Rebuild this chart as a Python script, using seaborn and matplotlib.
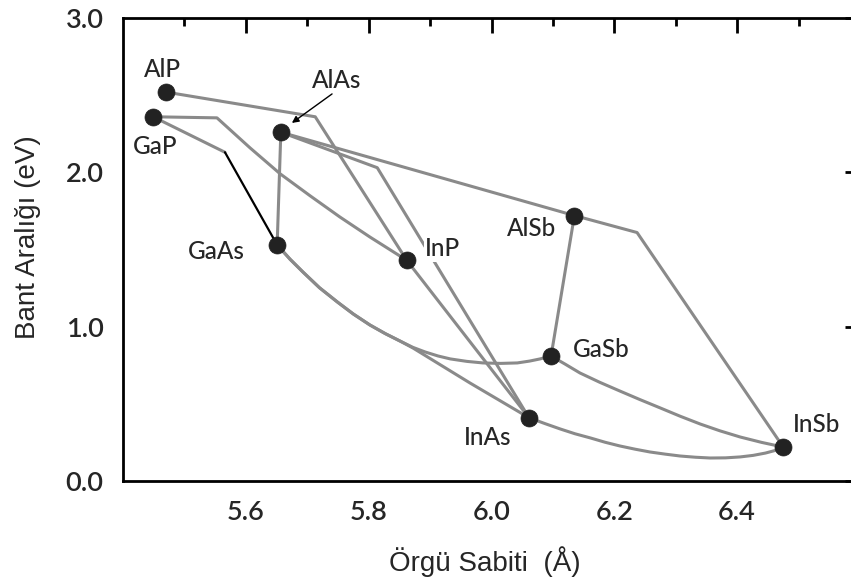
import matplotlib
matplotlib.use("Agg")
import matplotlib.pyplot as plt
import seaborn as sns
import pandas as pd
from matplotlib.ticker import FixedLocator

# ---- data ----
compounds = ["AlP", "GaP", "AlAs", "GaAs", "InP", "AlSb", "GaSb", "InAs", "InSb"]
lattice = [5.470, 5.449, 5.657, 5.651, 5.862, 6.135, 6.097, 6.061, 6.475]
gap = [2.52, 2.36, 2.26, 1.53, 1.43, 1.72, 0.81, 0.41, 0.22]

# connecting lines: (x list, y list)
alp_inp_x = [5.470, 5.713, 5.862]
alp_inp_y = [2.52, 2.36, 1.43]
gap_inp_x = [5.449, 5.553, 5.607, 5.656, 5.705, 5.753, 5.802, 5.862]
gap_inp_y = [2.36, 2.353, 2.158, 1.990, 1.847, 1.711, 1.581, 1.43]
gap_gaas_gray_x = [5.449, 5.566]
gap_gaas_gray_y = [2.36, 2.13]
gap_gaas_black_x = [5.566, 5.651]
gap_gaas_black_y = [2.13, 1.53]
alas_gaas_x = [5.657, 5.651]
alas_gaas_y = [2.26, 1.53]
alas_inas_x = [5.657, 5.814, 6.061]
alas_inas_y = [2.26, 2.03, 0.41]
alas_alsb_x = [5.657, 6.135]
alas_alsb_y = [2.26, 1.72]
alsb_insb_x = [6.135, 6.237, 6.475]
alsb_insb_y = [1.72, 1.61, 0.22]
alsb_gasb_x = [6.135, 6.097]
alsb_gasb_y = [1.72, 0.81]
inp_inas_x = [5.862, 6.061]
inp_inas_y = [1.43, 0.41]
gaas_gasb_x = [5.651, 5.672, 5.693, 5.720, 5.749, 5.775, 5.802, 5.827, 5.851, 5.872,
               5.892, 5.913, 5.933, 5.960, 5.986, 6.015, 6.042, 6.062, 6.079, 6.097]
gaas_gasb_y = [1.53, 1.437, 1.354, 1.252, 1.160, 1.082, 1.011, 0.955, 0.907, 0.866,
               0.836, 0.810, 0.791, 0.775, 0.765, 0.762, 0.765, 0.777, 0.791, 0.81]
gaas_inas_x = [5.651, 5.672, 5.693, 5.720, 5.749, 5.775, 5.802, 5.827, 5.851, 5.872,
               5.965, 6.061]
gaas_inas_y = [1.53, 1.437, 1.354, 1.252, 1.160, 1.082, 1.011, 0.955, 0.907, 0.862,
               0.635, 0.41]
inas_insb_x = [6.061, 6.087, 6.112, 6.136, 6.161, 6.185, 6.209, 6.234, 6.258, 6.283,
               6.307, 6.332, 6.356, 6.381, 6.405, 6.426, 6.446, 6.462, 6.475]
inas_insb_y = [0.41, 0.372, 0.337, 0.306, 0.279, 0.251, 0.227, 0.206, 0.188, 0.174,
               0.162, 0.154, 0.149, 0.150, 0.156, 0.166, 0.181, 0.198, 0.22]
gasb_insb_x = [6.097, 6.120, 6.144, 6.176, 6.209, 6.242, 6.275, 6.307, 6.340, 6.372,
               6.405, 6.440, 6.475]
gasb_insb_y = [0.81, 0.757, 0.700, 0.640, 0.583, 0.527, 0.473, 0.420, 0.369, 0.325,
               0.285, 0.250, 0.22]

label_x = [5.465, 5.452, 5.7485, 5.5515, 5.921, 6.066, 6.1785, 5.993, 6.530]
label_y = [2.664, 2.165, 2.592, 1.484, 1.504, 1.633, 0.849, 0.285, 0.363]

x_major = [5.6, 5.8, 6.0, 6.2, 6.4]
x_minor = [5.5, 5.7, 5.9, 6.1, 6.3, 6.5]
y_major = [0.0, 1.0, 2.0, 3.0]
y_minor = [0.5, 1.5, 2.5]

# ---- plotting ----
sns.set_style("white")
plt.rcParams["font.family"] = ["Lato", "DejaVu Sans"]

fig = plt.figure(figsize=(8.51, 5.82), dpi=100)
ax = fig.add_axes([123 / 851, (582 - 481) / 582, (860 - 123) / 851, (481 - 18) / 582])

gray = "#8a8a8a"
gray_lines = [
    (alp_inp_x, alp_inp_y), (gap_inp_x, gap_inp_y), (gap_gaas_gray_x, gap_gaas_gray_y),
    (alas_gaas_x, alas_gaas_y), (alas_inas_x, alas_inas_y), (alas_alsb_x, alas_alsb_y),
    (alsb_insb_x, alsb_insb_y), (alsb_gasb_x, alsb_gasb_y), (inp_inas_x, inp_inas_y),
    (gaas_gasb_x, gaas_gasb_y), (gaas_inas_x, gaas_inas_y), (inas_insb_x, inas_insb_y),
    (gasb_insb_x, gasb_insb_y),
]
for xs, ys in gray_lines:
    sns.lineplot(x=xs, y=ys, sort=False, color=gray, lw=2.2, ax=ax, zorder=2,
                 estimator=None, solid_capstyle="round", solid_joinstyle="round")
sns.lineplot(x=gap_gaas_black_x, y=gap_gaas_black_y, sort=False, color="black",
             lw=1.6, ax=ax, zorder=3, estimator=None)

df = pd.DataFrame({"a": lattice, "Eg": gap, "name": compounds})
sns.scatterplot(data=df, x="a", y="Eg", s=150, color="#222222", edgecolor="#222222",
                linewidth=0.5, ax=ax, zorder=5)

for name, lx, ly in zip(compounds, label_x, label_y):
    kw = {}
    if name == "InP":
        kw["bbox"] = dict(facecolor="white", edgecolor="none", pad=1.0)
    ax.text(lx, ly, name, ha="center", va="center", fontsize=17.5, family="Lato",
            fontweight="medium", zorder=6, **kw)

ax.annotate("", xy=(5.675, 2.320), xytext=(5.7404, 2.508),
            arrowprops=dict(arrowstyle="-|>", color="black", lw=1.0,
                            mutation_scale=10, shrinkA=0, shrinkB=0), zorder=6)

ax.set_xlim(5.4, 6.6)
ax.set_ylim(0, 3.0)
ax.xaxis.set_major_locator(FixedLocator(x_major))
ax.xaxis.set_minor_locator(FixedLocator(x_minor))
ax.yaxis.set_major_locator(FixedLocator(y_major))
ax.yaxis.set_minor_locator(FixedLocator(y_minor))
ax.set_xticklabels([f"{v:.1f}" for v in x_major])
ax.set_yticklabels([f"{v:.1f}" for v in y_major])

for sp in ax.spines.values():
    sp.set_visible(True)
    sp.set_linewidth(2.0)
    sp.set_color("black")

ax.tick_params(which="both", direction="in", top=True, right=True, color="black", width=2.0)
ax.tick_params(which="major", length=11, pad=14, labelsize=19.5)
ax.tick_params(which="minor", length=6)
for lab in ax.get_xticklabels() + ax.get_yticklabels():
    lab.set_fontweight("semibold")
    lab.set_family("Lato")

ax.set_xlabel("Örgü Sabiti  (Å)", fontsize=20, family="Liberation Sans")
ax.set_ylabel("Bant Aralığı (eV)", fontsize=20, family="Liberation Sans")
ax.xaxis.label.set_va("center")
ax.yaxis.label.set_va("center")
ax.xaxis.set_label_coords((485 - 123) / (860 - 123), -(562 - 481) / (481 - 18))
ax.yaxis.set_label_coords(-(123 - 28) / (860 - 123), (481 - 237) / (481 - 18))

fig.savefig("out.png", dpi=100)
